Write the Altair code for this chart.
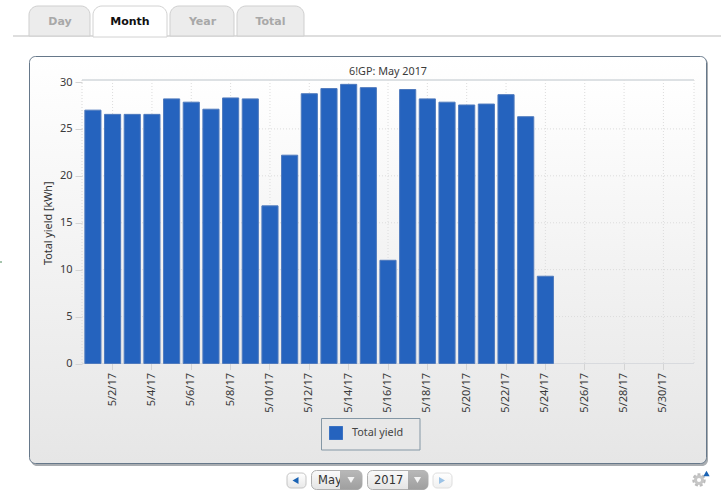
import altair as alt

# Daily yield for May 2017; days after the 24th have no reading yet
days = [f"5/{d}/17" for d in range(1, 32)]
yields = [27.0, 26.55, 26.55, 26.55, 28.2, 27.85, 27.1, 28.3, 28.2, 16.8, 22.2, 28.75,
          29.3, 29.75, 29.4, 11.0, 29.2, 28.2, 27.85, 27.55, 27.65, 28.65, 26.3, 9.3]
tick_days = days[1::2]
y_ticks = [0, 5, 10, 15, 20, 25, 30]
series_name = "Total yield"
chart_title = "6!GP: May 2017"
y_title = "Total yield [kWh]"
tabs = ["Day", "Month", "Year", "Total"]
month_label = "May"
year_label = "2017"

# Plot area position on the page; the surrounding widgets are placed in page pixels
OX, OY = 82, 82
W, H = 612, 281.5
FONT = "Noto Sans"
UI_FONT = "DejaVu Sans"
blank = alt.Data(values=[{}])


def grad(top, bottom):
    return alt.Gradient(gradient="linear", x1=0, x2=0, y1=0, y2=1,
                        stops=[alt.GradientStop(color=top, offset=0),
                               alt.GradientStop(color=bottom, offset=1)])


def box(x0, y0, x1, y1, **mark):
    return alt.Chart(blank).mark_rect(**mark).encode(
        x=alt.value(x0 - OX), x2=alt.value(x1 - OX),
        y=alt.value(y0 - OY), y2=alt.value(y1 - OY))


def line(x0, y0, x1, y1, **mark):
    return alt.Chart(blank).mark_rule(**mark).encode(
        x=alt.value(x0 - OX), x2=alt.value(x1 - OX),
        y=alt.value(y0 - OY), y2=alt.value(y1 - OY))


def label(x, y, content, **mark):
    return alt.Chart(blank).mark_text(baseline="middle", **mark).encode(
        x=alt.value(x - OX), y=alt.value(y - OY), text=alt.value(content))


def glyph(x, y, shape, size, color):
    return alt.Chart(blank).mark_point(shape=shape, size=size, filled=True, fill=color,
                                       stroke=None, opacity=1).encode(
        x=alt.value(x - OX), y=alt.value(y - OY))


x_enc = alt.X("day:N", sort=days,
              scale=alt.Scale(domain=days, paddingInner=0.18, paddingOuter=0.145),
              axis=alt.Axis(title=None, values=tick_days, labelAngle=270, labelAlign="right",
                            labelBaseline="middle", labelFont=FONT, labelFontSize=11,
                            labelColor="#3a3a3a", labelPadding=3, tickColor="#d4d4d4",
                            tickSize=6, domain=False, grid=False, zindex=1))
y_enc = alt.Y("value:Q",
              scale=alt.Scale(domain=[0, 30], nice=False),
              axis=alt.Axis(title=y_title, values=y_ticks, labelFont=FONT, labelFontSize=11,
                            labelColor="#3a3a3a", labelPadding=3, tickColor="#d4d4d4", tickSize=7,
                            titleFont=FONT, titleFontSize=10.8, titleFontWeight="normal",
                            titleColor="#333333", titlePadding=6,
                            domain=False, grid=False, zindex=1))

# Page furniture: tab strip, rounded panel and the plot backdrop
layers = [
    line(13, 36, 721, 36, color="#bdbdbd", strokeWidth=1),
    box(29, 6, 90, 36, fill="#ececec", stroke="#cfcfcf", cornerRadiusTopLeft=9, cornerRadiusTopRight=9),
    box(93, 6, 167, 37, fill="#ffffff", stroke="#d2d2d2", cornerRadiusTopLeft=9, cornerRadiusTopRight=9),
    box(170, 6, 234, 36, fill="#ececec", stroke="#cfcfcf", cornerRadiusTopLeft=9, cornerRadiusTopRight=9),
    box(237, 6, 304, 36, fill="#ececec", stroke="#cfcfcf", cornerRadiusTopLeft=9, cornerRadiusTopRight=9),
    label(60, 21.5, tabs[0], font=UI_FONT, fontSize=11, fontWeight="bold", color="#a8a8a8"),
    label(130, 21.5, tabs[1], font=UI_FONT, fontSize=11, fontWeight="bold", color="#111111"),
    label(202.5, 21.5, tabs[2], font=UI_FONT, fontSize=11, fontWeight="bold", color="#a8a8a8"),
    label(270.5, 21.5, tabs[3], font=UI_FONT, fontSize=11, fontWeight="bold", color="#a8a8a8"),
    box(31, 58, 708, 466, fill="#a9adb1", cornerRadius=6),
    box(29.5, 56.5, 706.5, 463.5, fill=grad("#ffffff", "#e6e6e6"), stroke="#66788a",
        strokeWidth=1, cornerRadius=6),
    box(82, 80, 694, 363.5, fill=grad("#ffffff", "#ececec")),
    line(82, 80, 694, 80, color="#dde1e4", strokeWidth=2),
    line(82, 363.5, 694, 363.5, color="#d8dade", strokeWidth=1),
    line(694, 80, 694, 363.5, color="#dcdcdc", strokeWidth=1, strokeDash=[1, 2]),
    line(82, 80, 82, 363.5, color="#d8d8d8", strokeWidth=1, strokeDash=[1, 2]),
    label(388, 71.5, chart_title, font=FONT, fontSize=10.8, color="#3a3a3a"),
    box(321.5, 418.5, 420, 450, fill="#e8e8e8", stroke="#8497a5", strokeWidth=1),
]

# Dotted grid, drawn through the same scales as the bars
layers += [
    alt.Chart(alt.Data(values=[{"day": d} for d in tick_days])).mark_rule(
        color="#dcdcdc", strokeWidth=1, strokeDash=[1, 2]
    ).encode(x=x_enc, y=alt.value(80 - OY), y2=alt.value(H)),
    alt.Chart(alt.Data(values=[{"value": v} for v in y_ticks[1:-1]])).mark_rule(
        color="#dcdcdc", strokeWidth=1, strokeDash=[1, 2]
    ).encode(y=y_enc, x=alt.value(0), x2=alt.value(W)),
]

# Bars and legend
layers.append(
    alt.Chart(alt.Data(values=[{"day": d, "value": v, "series": series_name}
                               for d, v in zip(days, yields)])).mark_bar(
        stroke="#4f7abd", strokeWidth=1
    ).encode(
        x=x_enc, y=y_enc,
        color=alt.Color("series:N",
                        scale=alt.Scale(domain=[series_name], range=["#2563be"]),
                        legend=alt.Legend(title=None, orient="none", legendX=321 - OX, legendY=418 - OY,
                                          padding=8, symbolType="square",
                                          symbolSize=190, symbolStrokeWidth=0, labelFont=FONT,
                                          labelFontSize=10.8, labelColor="#444444", labelOffset=9,
                                          labelLimit=120)))
)

# Month and year pager under the panel
layers += [
    line(0, 262, 2, 262, color="#4c8a5a", strokeWidth=1),
    box(287, 473, 306, 488, fill=grad("#ffffff", "#e8e8e8"), stroke="#c4c4c4", cornerRadius=4),
    glyph(295.5, 480.5, "triangle-left", 48, "#1a63b4"),
    box(311.5, 470.5, 362, 489.5, fill=grad("#fafafa", "#e4e4e4"), stroke="#b0b0b0", cornerRadius=5),
    label(318, 481, month_label, font=UI_FONT, fontSize=11.5, color="#333333", align="left"),
    box(340, 470.5, 362, 489.5, fill=grad("#b8b8b8", "#9f9f9f"), cornerRadiusTopRight=5, cornerRadiusBottomRight=5),
    glyph(351, 480, "triangle-down", 50, "#f4f4f4"),
    box(367.5, 470.5, 428, 489.5, fill=grad("#fafafa", "#e4e4e4"), stroke="#b0b0b0", cornerRadius=5),
    label(374, 481, year_label, font=UI_FONT, fontSize=11.5, color="#333333", align="left"),
    box(408, 470.5, 428, 489.5, fill=grad("#b8b8b8", "#9f9f9f"), cornerRadiusTopRight=5, cornerRadiusBottomRight=5),
    glyph(417.5, 480, "triangle-down", 50, "#f4f4f4"),
    box(433, 473, 452, 488, fill=grad("#ffffff", "#f0f0f0"), stroke="#dedede", cornerRadius=4),
    glyph(442, 480.5, "triangle-right", 48, "#9cc3e6"),
    # Settings gear with its small arrow
    alt.Chart(blank).mark_point(shape="circle", size=90, filled=False, stroke="#bcbcbc", strokeWidth=4,
                                strokeDash=[2.5, 1.6], opacity=1).encode(
        x=alt.value(699 - OX), y=alt.value(480 - OY)),
    alt.Chart(blank).mark_point(shape="circle", size=50, filled=False, stroke="#c6c6c6", strokeWidth=3,
                                opacity=1).encode(
        x=alt.value(699 - OX), y=alt.value(480 - OY)),
    glyph(706.5, 473.5, "triangle-up", 40, "#1a63b4"),
]

chart = alt.layer(*layers).properties(
    width=W, height=H,
    padding={"left": OX, "top": OY, "right": 721 - OX - W, "bottom": 498 - OY - H},
    autosize=alt.AutoSizeParams(type="none"),
    background="#ffffff",
).configure_view(stroke=None)

chart.save("out.html", embed_options={"renderer": "svg", "actions": False})
